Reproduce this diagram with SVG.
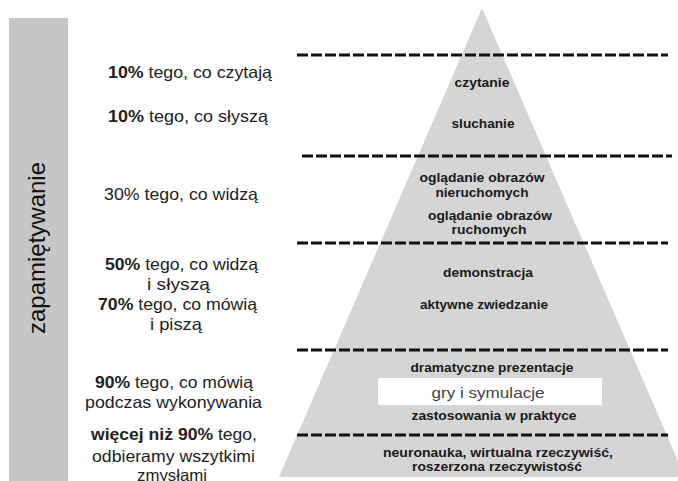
<svg xmlns="http://www.w3.org/2000/svg" width="678" height="481" viewBox="0 0 678 481">
  <style>
    .side { font-family: "Liberation Sans", Arial, sans-serif; font-size: 16.5px; fill: #222; text-anchor: middle; }
    .b { font-weight: bold; }
    .lvl { font-family: "Liberation Sans", Arial, sans-serif; font-size: 13.5px; font-weight: bold; fill: #1a1a1a; text-anchor: middle; }
    .sep { stroke: #111; stroke-width: 3; stroke-dasharray: 11 3; fill: none; }
  </style>
  <rect width="678" height="481" fill="#ffffff"/>

  <!-- vertical axis label -->
  <g id="axis">
    <rect x="9" y="18" width="59" height="463" fill="#c6c6c6"/>
    <text transform="translate(45,248) rotate(-90)" font-family="Liberation Sans, Arial, sans-serif" font-size="24" fill="#111" text-anchor="middle">zapamiętywanie</text>
  </g>

  <!-- pyramid body -->
  <g id="pyramid">
    <polygon points="482,8 279,477 685,477" fill="#d5d5d5"/>
  </g>

  <!-- level separators -->
  <g id="connectors">
    <line class="sep" x1="297" y1="55" x2="668" y2="55"/>
    <line class="sep" x1="302" y1="156" x2="672" y2="156"/>
    <line class="sep" x1="297" y1="243" x2="668" y2="243"/>
    <line class="sep" x1="297" y1="350" x2="668" y2="350"/>
    <line class="sep" x1="297" y1="435" x2="668" y2="435"/>
  </g>

  <!-- pyramid levels -->
  <g id="level1">
    <text class="lvl" x="482" y="87" textLength="55" lengthAdjust="spacingAndGlyphs">czytanie</text>
    <text class="lvl" x="483" y="128" textLength="63" lengthAdjust="spacingAndGlyphs">sluchanie</text>
  </g>
  <g id="level2">
    <text class="lvl" x="482" y="182" textLength="125" lengthAdjust="spacingAndGlyphs">oglądanie obrazów</text>
    <text class="lvl" x="482" y="197" textLength="93" lengthAdjust="spacingAndGlyphs">nieruchomych</text>
    <text class="lvl" x="490" y="220" textLength="124" lengthAdjust="spacingAndGlyphs">oglądanie obrazów</text>
    <text class="lvl" x="489" y="234" textLength="75" lengthAdjust="spacingAndGlyphs">ruchomych</text>
  </g>
  <g id="level3">
    <text class="lvl" x="488" y="277" textLength="90" lengthAdjust="spacingAndGlyphs">demonstracja</text>
    <text class="lvl" x="484" y="309" textLength="128" lengthAdjust="spacingAndGlyphs">aktywne zwiedzanie</text>
  </g>
  <g id="level4">
    <text class="lvl" x="492" y="372" textLength="163" lengthAdjust="spacingAndGlyphs">dramatyczne prezentacje</text>
    <rect x="378" y="378" width="224" height="27" fill="#ffffff"/>
    <text x="488" y="398" font-family="Liberation Sans, Arial, sans-serif" font-size="15.5" fill="#444" text-anchor="middle" textLength="113" lengthAdjust="spacingAndGlyphs">gry i symulacje</text>
    <text class="lvl" x="494" y="420" textLength="165" lengthAdjust="spacingAndGlyphs">zastosowania w praktyce</text>
  </g>
  <g id="level5">
    <text class="lvl" x="498" y="457" textLength="230" lengthAdjust="spacingAndGlyphs">neuronauka, wirtualna rzeczywiść,</text>
    <text class="lvl" x="497" y="471" textLength="170" lengthAdjust="spacingAndGlyphs">roszerzona rzeczywistość</text>
  </g>

  <!-- retention percentages -->
  <g id="retention1">
    <text class="side" x="190" y="78" textLength="164" lengthAdjust="spacingAndGlyphs"><tspan class="b">10%</tspan> tego, co czytają</text>
    <text class="side" x="188" y="122" textLength="160" lengthAdjust="spacingAndGlyphs"><tspan class="b">10%</tspan> tego, co słyszą</text>
  </g>
  <g id="retention2">
    <text class="side" x="181" y="200" textLength="154" lengthAdjust="spacingAndGlyphs" fill="#333">30% tego, co widzą</text>
  </g>
  <g id="retention3">
    <text class="side" x="181.5" y="270" textLength="153" lengthAdjust="spacingAndGlyphs"><tspan class="b">50%</tspan> tego, co widzą</text>
    <text class="side" x="178.5" y="290" textLength="63" lengthAdjust="spacingAndGlyphs">i słyszą</text>
    <text class="side" x="177.5" y="310" textLength="159" lengthAdjust="spacingAndGlyphs"><tspan class="b">70%</tspan> tego, co mówią</text>
    <text class="side" x="176" y="330" textLength="52" lengthAdjust="spacingAndGlyphs">i piszą</text>
  </g>
  <g id="retention4">
    <text class="side" x="174" y="388" textLength="158" lengthAdjust="spacingAndGlyphs"><tspan class="b">90%</tspan> tego, co mówią</text>
    <text class="side" x="173.5" y="408" textLength="177" lengthAdjust="spacingAndGlyphs">podczas wykonywania</text>
  </g>
  <g id="retention5">
    <text class="side" x="174" y="440" textLength="166" lengthAdjust="spacingAndGlyphs"><tspan class="b">więcej niż 90%</tspan> tego,</text>
    <text class="side" x="173.5" y="462" textLength="163" lengthAdjust="spacingAndGlyphs">odbieramy wszytkimi</text>
    <text class="side" x="172" y="481" textLength="70" lengthAdjust="spacingAndGlyphs">zmysłami</text>
  </g>
</svg>
